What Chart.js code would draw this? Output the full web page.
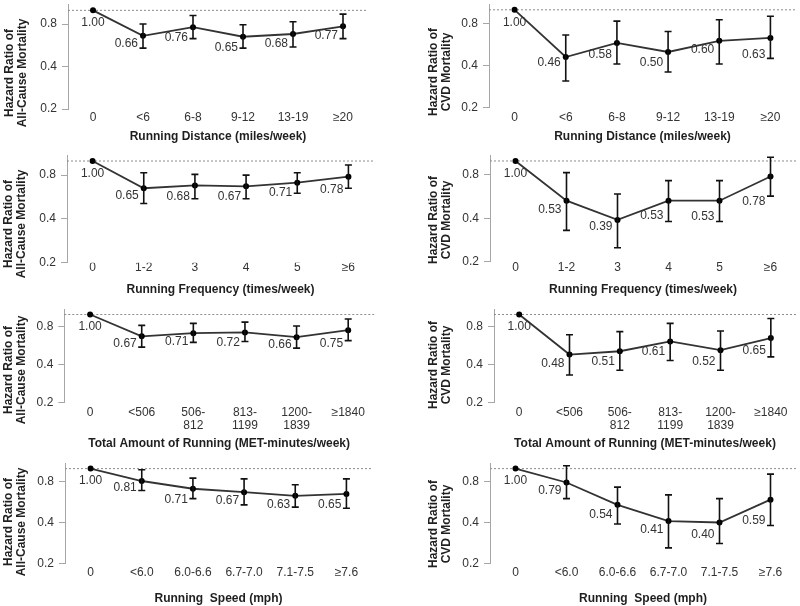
<!DOCTYPE html>
<html>
<head>
<meta charset="utf-8">
<script src="https://cdn.jsdelivr.net/npm/chart.js@4.4.0/dist/chart.umd.min.js"></script>
<style>
body { margin: 0; background: #fff; width: 800px; height: 606px; position: relative; overflow: hidden; }
canvas { position: absolute; }
</style>
</head>
<body>
<canvas id="p1"></canvas><canvas id="p2"></canvas>
<canvas id="p3"></canvas><canvas id="p4"></canvas>
<canvas id="p5"></canvas><canvas id="p6"></canvas>
<canvas id="p7"></canvas><canvas id="p8"></canvas>
<script>
// categories
var distanceCats = ['0', '<6', '6-8', '9-12', '13-19', '≥20'];
var frequencyCats = ['0', '1-2', '3', '4', '5', '≥6'];
var amountCats = ['0', '<506', ['506-', '812'], ['813-', '1199'], ['1200-', '1839'], '≥1840'];
var speedCats = ['0', '<6.0', '6.0-6.6', '6.7-7.0', '7.1-7.5', '≥7.6'];
var yTicks = [0.2, 0.4, 0.8];

// hazard ratios + CI
var distAllHR = [1.00, 0.66, 0.76, 0.65, 0.68, 0.77];
var distAllLo = [null, 0.54, 0.63, 0.54, 0.55, 0.63];
var distAllHi = [null, 0.80, 0.92, 0.79, 0.83, 0.94];

var distCvdHR = [1.00, 0.46, 0.58, 0.50, 0.60, 0.63];
var distCvdLo = [null, 0.31, 0.41, 0.36, 0.41, 0.45];
var distCvdHi = [null, 0.66, 0.83, 0.70, 0.85, 0.90];

var freqAllHR = [1.00, 0.65, 0.68, 0.67, 0.71, 0.78];
var freqAllLo = [null, 0.51, 0.55, 0.55, 0.60, 0.65];
var freqAllHi = [null, 0.83, 0.81, 0.80, 0.83, 0.94];

var freqCvdHR = [1.00, 0.53, 0.39, 0.53, 0.53, 0.78];
var freqCvdLo = [null, 0.33, 0.25, 0.38, 0.38, 0.57];
var freqCvdHi = [null, 0.83, 0.59, 0.73, 0.73, 1.06];

var amtAllHR = [1.00, 0.67, 0.71, 0.72, 0.66, 0.75];
var amtAllLo = [null, 0.55, 0.60, 0.61, 0.54, 0.62];
var amtAllHi = [null, 0.82, 0.85, 0.87, 0.81, 0.92];

var amtCvdHR = [1.00, 0.48, 0.51, 0.61, 0.52, 0.65];
var amtCvdLo = [null, 0.33, 0.36, 0.43, 0.36, 0.46];
var amtCvdHi = [null, 0.69, 0.73, 0.85, 0.74, 0.93];

var speedAllHR = [1.00, 0.81, 0.71, 0.67, 0.63, 0.65];
var speedAllLo = [null, 0.69, 0.60, 0.54, 0.52, 0.51];
var speedAllHi = [null, 0.98, 0.85, 0.84, 0.76, 0.84];

var speedCvdHR = [1.00, 0.79, 0.54, 0.41, 0.40, 0.59];
var speedCvdLo = [null, 0.60, 0.39, 0.26, 0.28, 0.38];
var speedCvdHi = [null, 1.05, 0.73, 0.64, 0.60, 0.91];

var allTitle = ['Hazard Ratio of', 'All-Cause Mortality'];
var cvdTitle = ['Hazard Ratio of', 'CVD Mortality'];

var FONT = "'Liberation Sans', Arial, sans-serif";
var TXT = '#333';

// panel layout: cell box, plot box, text nudges
var panels = [
  { id: 'p1', cell: [0, 0, 400, 150], plot: [68, 4.5, 368, 109], pad: 2, xt: 136.7, yt: [16, 73],
    cats: distanceCats, hr: distAllHR, lo: distAllLo, hi: distAllHi, ytitle: allTitle,
    xtitle: 'Running Distance (miles/week)', dy: [12, 8, 11, 11, 10, 9] },
  { id: 'p2', cell: [400, 0, 400, 150], plot: [489, 1.5, 798, 107.7], pad: 3, xt: 136.7, yt: [440, 72],
    cats: distanceCats, hr: distCvdHR, lo: distCvdLo, hi: distCvdHi, ytitle: cvdTitle,
    xtitle: 'Running Distance (miles/week)', dy: [13, 6, 12, 11, 9, 17] },
  { id: 'p3', cell: [0, 150, 400, 150], plot: [67, 155, 374, 262.7], pad: -1.5, xt: 290, yt: [15, 224],
    cats: frequencyCats, hr: freqAllHR, lo: freqAllLo, hi: freqAllHi, ytitle: allTitle,
    xtitle: 'Running Frequency (times/week)', dy: [13, 7, 11, 10, 10, 13] },
  { id: 'p4', cell: [400, 150, 400, 150], plot: [490, 155, 798, 261.7], pad: -1, xt: 289.3, yt: [440, 220],
    cats: frequencyCats, hr: freqCvdHR, lo: freqCvdLo, hi: freqCvdHi, ytitle: cvdTitle,
    xtitle: 'Running Frequency (times/week)', dy: [13, 9, 7, 15, 16, 25] },
  { id: 'p5', cell: [0, 300, 400, 155], plot: [64.3, 309.3, 374, 402.3], pad: 4, xt: 444, yt: [15, 370],
    cats: amountCats, hr: amtAllHR, lo: amtAllLo, hi: amtAllHi, ytitle: allTitle,
    xtitle: 'Total Amount of Running (MET-minutes/week)', dy: [12, 7, 9, 10, 8, 13] },
  { id: 'p6', cell: [400, 300, 400, 155], plot: [494, 309.3, 798, 402.3], pad: 4, xt: 444, yt: [440, 365],
    cats: amountCats, hr: amtCvdHR, lo: amtCvdLo, hi: amtCvdHi, ytitle: cvdTitle,
    xtitle: 'Total Amount of Running (MET-minutes/week)', dy: [12, 9, 10, 10, 12, 13] },
  { id: 'p7', cell: [0, 455, 400, 151], plot: [65, 463, 372, 563.3], pad: 3, xt: 598.3, yt: [15, 522],
    cats: speedCats, hr: speedAllHR, lo: speedAllLo, hi: speedAllHi, ytitle: allTitle,
    xtitle: 'Running  Speed (mph)', dy: [12, 7, 11, 9, 9, 11] },
  { id: 'p8', cell: [400, 455, 400, 151], plot: [490, 463, 800, 563.3], pad: 3, xt: 598.3, yt: [440, 524],
    cats: speedCats, hr: speedCvdHR, lo: speedCvdLo, hi: speedCvdHi, ytitle: cvdTitle,
    xtitle: 'Running  Speed (mph)', dy: [12, 8, 10, 9, 12, 21] }
];

// reference line, error bars, value labels, y title
var extras = {
  id: 'extras',
  beforeDatasetsDraw: function (chart) {
    var ctx = chart.ctx, a = chart.chartArea;
    var y = chart.scales.y.getPixelForValue(1);
    ctx.save();
    ctx.strokeStyle = '#8c8c8c';
    ctx.lineWidth = 1;
    ctx.setLineDash([2, 2]);
    ctx.beginPath();
    ctx.moveTo(a.left, y);
    ctx.lineTo(a.right, y);
    ctx.stroke();
    ctx.restore();
  },
  afterDatasetsDraw: function (chart) {
    var p = chart.options.plugins.extras;
    var ctx = chart.ctx, ys = chart.scales.y;
    var pts = chart.getDatasetMeta(0).data;
    ctx.save();
    ctx.strokeStyle = '#111';
    ctx.lineWidth = 1.6;
    pts.forEach(function (pt, i) {
      if (p.lo[i] == null) return;
      var y1 = ys.getPixelForValue(p.lo[i]), y2 = ys.getPixelForValue(p.hi[i]);
      ctx.beginPath();
      ctx.moveTo(pt.x, y1); ctx.lineTo(pt.x, y2);
      ctx.moveTo(pt.x - 3.5, y1); ctx.lineTo(pt.x + 3.5, y1);
      ctx.moveTo(pt.x - 3.5, y2); ctx.lineTo(pt.x + 3.5, y2);
      ctx.stroke();
    });
    ctx.fillStyle = TXT;
    ctx.font = '12px ' + FONT;
    ctx.textBaseline = 'middle';
    pts.forEach(function (pt, i) {
      var txt = p.hr[i].toFixed(2);
      if (i === 0) {
        ctx.textAlign = 'center';
        ctx.fillText(txt, pt.x, pt.y + p.dy[i]);
      } else {
        ctx.textAlign = 'right';
        ctx.fillText(txt, pt.x - 5, pt.y + p.dy[i]);
      }
    });
    ctx.restore();
  },
  afterDraw: function (chart) {
    var p = chart.options.plugins.extras;
    var ctx = chart.ctx;
    ctx.save();
    ctx.translate(p.yt[0], p.yt[1]);
    ctx.rotate(-Math.PI / 2);
    ctx.fillStyle = '#1f1f1f';
    ctx.font = 'bold 12px ' + FONT;
    ctx.textAlign = 'center';
    ctx.textBaseline = 'middle';
    ctx.fillText(p.ytitle[0], 0, -6.5);
    ctx.fillText(p.ytitle[1], 0, 6.5);
    ctx.restore();
  }
};

panels.forEach(function (pn) {
  var cx = pn.cell[0], cy = pn.cell[1], cw = pn.cell[2], ch = pn.cell[3];
  var L = pn.plot[0], T = pn.plot[1], R = pn.plot[2], B = pn.plot[3];
  var cv = document.getElementById(pn.id);
  cv.width = cw; cv.height = ch;
  cv.style.left = cx + 'px'; cv.style.top = cy + 'px';

  new Chart(cv.getContext('2d'), {
    type: 'line',
    data: {
      labels: pn.cats,
      datasets: [{
        data: pn.hr,
        borderColor: '#333',
        borderWidth: 1.8,
        tension: 0,
        pointRadius: 3,
        pointBackgroundColor: '#000',
        pointBorderWidth: 0
      }]
    },
    options: {
      responsive: false,
      animation: false,
      layout: { padding: { top: T - cy, right: cx + cw - R, left: 0, bottom: 0 } },
      plugins: {
        legend: { display: false },
        tooltip: { enabled: false },
        extras: { lo: pn.lo, hi: pn.hi, hr: pn.hr, dy: pn.dy, ytitle: pn.ytitle, yt: [pn.yt[0] - cx, pn.yt[1] - cy] }
      },
      scales: {
        x: {
          type: 'category',
          offset: true,
          grid: { display: false, drawTicks: false },
          border: { display: false },
          ticks: { color: TXT, font: { family: FONT, size: 12, lineHeight: 1.1 }, padding: pn.pad, maxRotation: 0, autoSkip: false },
          title: {
            display: true, text: pn.xtitle, color: '#1f1f1f',
            font: { family: FONT, size: 12, weight: 'bold', lineHeight: 1.2 },
            padding: { top: 0, bottom: cy + ch - pn.xt - 7.2 }
          },
          afterFit: function (s) { s.height = cy + ch - B; s.paddingLeft = 0; s.paddingRight = 0; }
        },
        y: {
          type: 'logarithmic',
          min: 0.2,
          max: 1.1,
          afterBuildTicks: function (s) { s.ticks = yTicks.map(function (v) { return { value: v }; }); },
          ticks: {
            color: TXT, padding: 5, font: { family: FONT, size: 12 },
            callback: function (v) { return Number(v).toFixed(1); }
          },
          grid: { drawOnChartArea: false, drawTicks: true, tickLength: 6, color: '#a6a6a6' },
          border: { display: true, color: '#a6a6a6', width: 1 },
          afterFit: function (s) { s.width = L - cx; s.paddingTop = 0; s.paddingBottom = 0; }
        }
      }
    },
    plugins: [extras]
  });
});
</script>
</body>
</html>
